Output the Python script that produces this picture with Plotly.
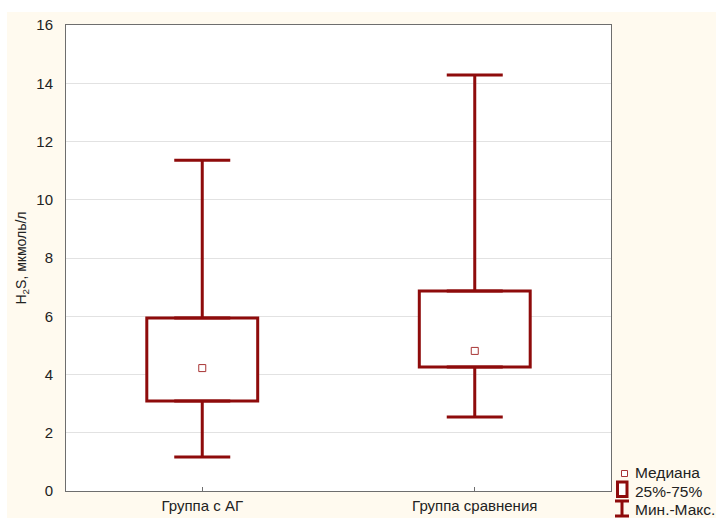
import plotly.graph_objects as go

# ---- data ----
categories = ["Группа с АГ", "Группа сравнения"]
medians = [4.22, 4.81]
q1 = [3.09, 4.26]
q3 = [5.94, 6.87]
mins = [1.17, 2.54]
maxs = [11.36, 14.28]
y_ticks = [0, 2, 4, 6, 8, 10, 12, 14, 16]
legend_labels = ["Медиана", "25%-75%", "Мин.-Макс."]

RED = "#8E0B0B"
CREAM = "#FFFAEF"
W, H = 716, 518
L, R, T, B = 66, 611, 25, 491
pw, ph = R - L, B - T

def px(x):
    return (x - L) / pw

def py(y):
    return (B - y) / ph

fig = go.Figure()

# box (25%-75%)
fig.add_trace(go.Bar(
    x=[0, 1], y=[b - a for a, b in zip(q1, q3)], base=q1, width=0.407,
    marker=dict(color="white", line=dict(color=RED, width=3)),
    showlegend=False, hoverinfo="skip"))

# upper whiskers
fig.add_trace(go.Scatter(
    x=[0, 1], y=q3, mode="markers",
    marker=dict(size=1, color="rgba(0,0,0,0)"),
    error_y=dict(type="data", symmetric=False,
                 array=[m - q for m, q in zip(maxs, q3)], arrayminus=[0, 0],
                 width=28, thickness=3, color=RED),
    showlegend=False, hoverinfo="skip"))

# lower whiskers
fig.add_trace(go.Scatter(
    x=[0, 1], y=q1, mode="markers",
    marker=dict(size=1, color="rgba(0,0,0,0)"),
    error_y=dict(type="data", symmetric=False,
                 array=[0, 0], arrayminus=[q - m for q, m in zip(q1, mins)],
                 width=28, thickness=3, color=RED),
    showlegend=False, hoverinfo="skip"))

# medians
fig.add_trace(go.Scatter(
    x=[0, 1], y=medians, mode="markers",
    marker=dict(symbol="square", size=7, color="white",
                line=dict(color="#A83434", width=1)),
    showlegend=False))

shapes = []
# cream frame around plot area
for (x0, y0, x1, y1) in [(7, 12, W + 5, T), (7, B, W + 5, H + 5),
                         (7, T, L, B), (R, T, W + 5, B)]:
    shapes.append(dict(type="rect", xref="paper", yref="paper",
                       x0=px(x0), x1=px(x1), y0=py(y1), y1=py(y0),
                       fillcolor=CREAM, line=dict(width=0), layer="below"))

# legend symbols
shapes.append(dict(type="rect", xref="paper", yref="paper",
                   x0=px(621.5), x1=px(627.5), y0=py(476.5), y1=py(470.5),
                   fillcolor="white", line=dict(color="#A83434", width=1)))
shapes.append(dict(type="rect", xref="paper", yref="paper",
                   x0=px(617.5), x1=px(627), y0=py(496.5), y1=py(482),
                   fillcolor="white", line=dict(color=RED, width=3)))
for (x0, y0, x1, y1) in [(615, 501, 629, 501), (622, 501, 622, 516),
                         (615, 516, 629, 516)]:
    shapes.append(dict(type="line", xref="paper", yref="paper",
                       x0=px(x0), x1=px(x1), y0=py(y0), y1=py(y1),
                       line=dict(color=RED, width=3)))

annotations = []
for lbl, yc in zip(legend_labels, [472, 491, 509]):
    annotations.append(dict(text=lbl, xref="paper", yref="paper",
                            x=px(633), y=py(yc), xanchor="left", yanchor="middle",
                            showarrow=False,
                            font=dict(family="Liberation Sans, Arial", size=15.5,
                                      color="#222222")))

fig.update_layout(
    width=W, height=H,
    margin=dict(l=L, r=W - R, t=T, b=H - B, pad=0),
    paper_bgcolor="white", plot_bgcolor="white",
    font=dict(family="Liberation Sans, Arial", size=15, color="#222222"),
    shapes=shapes, annotations=annotations,
    showlegend=False,
    xaxis=dict(range=[-0.5, 1.5], tickmode="array", tickvals=[0, 1],
               ticktext=categories, showgrid=False, zeroline=False,
               showline=True, linecolor="#6E6E6E", linewidth=1, mirror=True,
               ticks="inside", ticklen=4, tickcolor="#6E6E6E",
               ticklabelstandoff=1, automargin=False, fixedrange=True),
    yaxis=dict(range=[0, 16], tickmode="array", tickvals=y_ticks,
               showgrid=True, gridcolor="#E2E2E2", gridwidth=1, zeroline=False,
               showline=True, linecolor="#6E6E6E", linewidth=1, mirror=True,
               ticks="", ticklabelstandoff=9, automargin=False,
               title=dict(text="H<sub>2</sub>S, мкмоль/л", standoff=6,
                          font=dict(size=14)),
               fixedrange=True),
)

fig.write_html("out.html", config={"displayModeBar": False},
               post_script="document.body.style.margin='0';document.body.style.padding='0';")
